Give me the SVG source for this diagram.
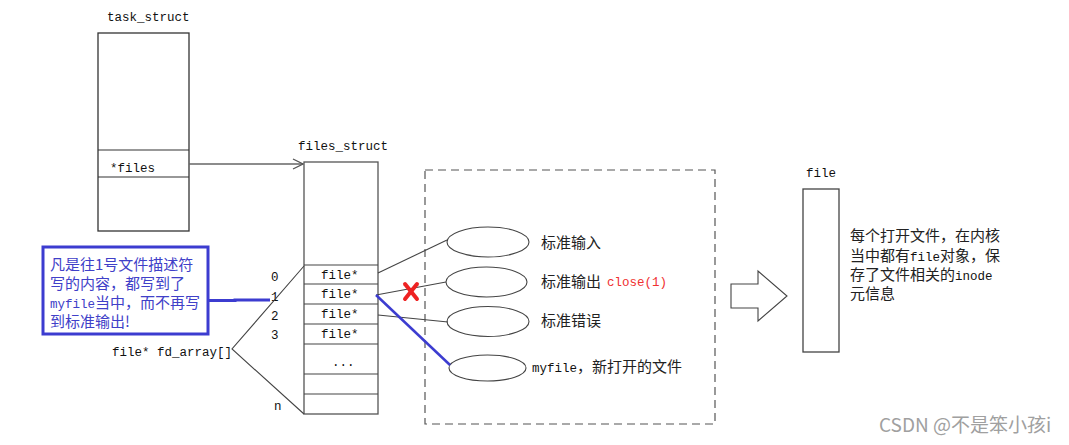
<svg xmlns="http://www.w3.org/2000/svg" width="1069" height="445" viewBox="0 0 1069 445">
<style>
.box{fill:#fff;stroke:#333;stroke-width:1.3}
.sep{stroke:#333;stroke-width:1.2}
.ln{stroke:#444;stroke-width:1.1;fill:none}
.mono{font-family:"Liberation Mono","DejaVu Sans Mono",monospace;font-size:12.5px;fill:#111}
.cjk{font-family:"Noto Sans CJK SC",sans-serif;font-size:15px;fill:#222}
.ell{fill:#fff;stroke:#444;stroke-width:1.1}
.blue{fill:#4040c8}
</style>
<defs>
<marker id="open" viewBox="0 0 12 12" refX="11" refY="6" markerWidth="12" markerHeight="12" markerUnits="userSpaceOnUse" orient="auto">
<path d="M1,1 L11,6 L1,11" fill="none" stroke="#555" stroke-width="1.3"/>
</marker>
</defs>
<rect width="1069" height="445" fill="#fff"/>

<g id="task_struct">
<text class="mono" x="107" y="21">task_struct</text>
<rect class="box" x="98" y="33" width="91" height="198"/>
<line class="sep" x1="98" y1="150" x2="189" y2="150"/>
<line class="sep" x1="98" y1="177" x2="189" y2="177"/>
<text class="mono" x="110" y="172">*files</text>
</g>

<g id="files_struct">
<text class="mono" x="298" y="150">files_struct</text>
<rect class="box" x="304" y="162" width="74" height="252" style="stroke:#555"/>
<g class="sep" style="stroke:#444">
<line x1="304" y1="265" x2="378" y2="265"/>
<line x1="304" y1="284" x2="378" y2="284"/>
<line x1="304" y1="304" x2="378" y2="304"/>
<line x1="304" y1="324" x2="378" y2="324"/>
<line x1="304" y1="344" x2="378" y2="344"/>
<line x1="304" y1="374" x2="378" y2="374"/>
<line x1="304" y1="394" x2="378" y2="394"/>
</g>
<text class="mono" x="321" y="279">file*</text>
<text class="mono" x="321" y="298">file*</text>
<text class="mono" x="321" y="318">file*</text>
<text class="mono" x="321" y="338">file*</text>
<text class="mono" x="332" y="366">...</text>
<text class="mono" x="271" y="281">0</text>
<text class="mono" x="271" y="301">1</text>
<text class="mono" x="271" y="320">2</text>
<text class="mono" x="271" y="339">3</text>
<text class="mono" x="274" y="410">n</text>
<text class="mono" x="112" y="356">file* fd_array[]</text>
</g>

<g id="note">
<rect x="43" y="247" width="165" height="87" fill="#fff" stroke="#3c3cd0" stroke-width="3"/>
<text class="cjk blue" x="50" y="270">凡是往1号文件描述符</text>
<text class="cjk blue" x="50" y="289">写的内容，都写到了</text>
<text class="cjk blue" x="50" y="308"><tspan style="font-family:'Liberation Mono',monospace;font-size:12.5px">myfile</tspan>当中，而不再写</text>
<text class="cjk blue" x="50" y="327">到标准输出!</text>
</g>

<g id="open_files">
<rect x="425" y="170" width="290" height="254" fill="none" stroke="#555" stroke-width="1.2" stroke-dasharray="8,5"/>
<ellipse class="ell" cx="488" cy="242" rx="41" ry="15"/>
<ellipse class="ell" cx="486.5" cy="282" rx="40.5" ry="15"/>
<ellipse class="ell" cx="488" cy="321.5" rx="41" ry="15"/>
<ellipse class="ell" cx="487.5" cy="368" rx="38.5" ry="13"/>
<text class="cjk" x="541" y="248">标准输入</text>
<text class="cjk" x="541" y="287">标准输出</text>
<text class="mono" x="607" y="286" style="fill:#f03030">close(1)</text>
<text class="cjk" x="541" y="326">标准错误</text>
<text class="cjk" x="532" y="372"><tspan class="mono" style="font-size:12.5px">myfile</tspan>，新打开的文件</text>
</g>

<g id="file_obj">
<text class="mono" x="806" y="177">file</text>
<rect class="box" x="803" y="189" width="36" height="163" style="stroke:#444"/>
<text class="cjk" x="850" y="241">每个打开文件，在内核</text>
<text class="cjk" x="850" y="261">当中都有<tspan class="mono" style="font-size:12.5px">file</tspan>对象，保</text>
<text class="cjk" x="850" y="280">存了文件相关的<tspan class="mono" style="font-size:12.5px">inode</tspan></text>
<text class="cjk" x="850" y="299">元信息</text>
</g>

<g id="big_arrow">
<path d="M731,284 L758,284 L758,271 L787,296 L758,321 L758,308 L731,308 Z" fill="#fff" stroke="#444" stroke-width="1.1"/>
</g>

<g id="connectors">
<line class="ln" x1="189" y1="164" x2="303" y2="164" marker-end="url(#open)" style="stroke:#666;stroke-width:1.5"/>
<polyline class="ln" points="304,266 232,349 304,414"/>
<line class="ln" x1="378" y1="273" x2="447" y2="240"/>
<line class="ln" x1="376" y1="295" x2="446" y2="282"/>
<line class="ln" x1="378" y1="315" x2="448" y2="322"/>
<line x1="376" y1="295" x2="450" y2="365" stroke="#3c3cd0" stroke-width="2.5"/>
<polyline points="208,300.5 235,300.5 235,300 270,300" fill="none" stroke="#3c3cd0" stroke-width="3"/>
<g stroke="#ee2222" stroke-width="4" stroke-linecap="round">
<line x1="405" y1="284" x2="417" y2="299"/>
<line x1="417" y1="284" x2="405" y2="299"/>
</g>
</g>

<text x="879" y="432" style="font-family:'Noto Sans CJK SC',sans-serif;font-size:19px;fill:#a0a0a0">CSDN @不是笨小孩i</text>
</svg>
